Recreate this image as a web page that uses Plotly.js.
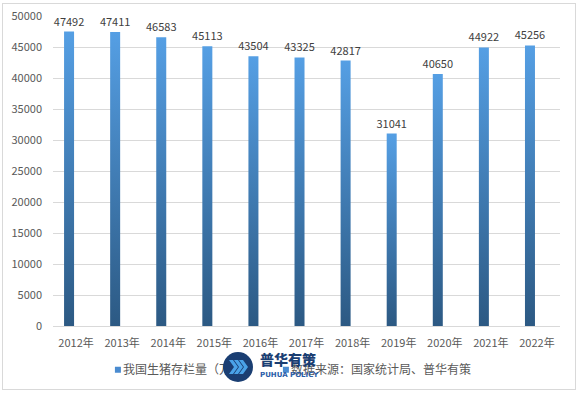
<!DOCTYPE html>
<html>
<head>
<meta charset="utf-8">
<script src="https://cdn.plot.ly/plotly-3.0.1.min.js"></script>
<style>
html,body{margin:0;padding:0;background:#fff;}
#wrap{position:relative;width:579px;height:394px;overflow:hidden;}
#chart{position:absolute;left:0;top:0;width:579px;height:394px;}
#border{position:absolute;left:2px;top:3px;width:572px;height:385px;border:1px solid #d9d9d9;pointer-events:none;}
#logo{position:absolute;left:223px;top:352px;width:110px;height:32px;pointer-events:none;}
#logo .c{position:absolute;left:0;top:0;width:30px;height:30px;border-radius:50%;background:#1a3e72;}
#logo .t1{position:absolute;left:37px;top:-2px;font-family:"Noto Sans CJK SC";font-weight:900;font-size:14px;color:#1a3e72;line-height:18px;white-space:nowrap;}
#logo .t2{position:absolute;left:37px;top:19px;font-family:"DejaVu Sans";font-weight:bold;font-size:7px;color:#2a5da8;line-height:9px;white-space:nowrap;}
</style>
</head>
<body>
<div id="wrap">
<div id="chart"></div>
<div id="border"></div>
<div id="logo">
  <div class="c">
    <svg width="30" height="30" viewBox="0 0 30 30">
      <path d="M6,8 L10,8 L15,15 L10,22 L6,22 L11,15 Z" fill="#4aa3e8"/>
      <path d="M11,8 L15,8 L20,15 L15,22 L11,22 L16,15 Z" fill="#4aa3e8"/>
      <path d="M16,8 L20,8 L25,15 L20,22 L16,22 L21,15 Z" fill="#4aa3e8"/>
    </svg>
  </div>
  <div class="t1">普华有策</div>
  <div class="t2">PUHUA POLICY</div>
</div>
</div>
<script>
const categories = ["2012年","2013年","2014年","2015年","2016年","2017年","2018年","2019年","2020年","2021年","2022年"];
const hogStock = [47492,47411,46583,45113,43504,43325,42817,31041,40650,44922,45256];
const seriesName = "我国生猪存栏量（万头）";
const sourceName = "数据来源：国家统计局、普华有策";
const yTicks = [0,5000,10000,15000,20000,25000,30000,35000,40000,45000,50000];

const font = {family: "'Noto Sans CJK SC', 'Noto Sans', sans-serif", size: 11, color: "#595959"};

const traces = [
  {
    type: "bar",
    name: seriesName,
    x: categories,
    y: hogStock,
    width: 0.217,
    offset: -0.26,
    marker: {color: "#4a8bd0", line: {width: 0}},
    text: hogStock.map(String),
    textposition: "outside",
    constraintext: "none",
    textfont: {family: font.family, size: 11, color: "#404040"},
    cliponaxis: false,
    hoverinfo: "skip"
  },
  {
    type: "bar",
    name: sourceName,
    x: categories,
    y: categories.map(() => null),
    marker: {color: "#4a8bd0"},
    hoverinfo: "skip"
  }
];

const layout = {
  width: 579,
  height: 394,
  margin: {l: 53, r: 19, t: 16, b: 68, autoexpand: false},
  paper_bgcolor: "#ffffff",
  plot_bgcolor: "#ffffff",
  font: font,
  showlegend: true,
  barmode: "overlay",
  xaxis: {
    type: "category",
    showgrid: false,
    showline: true,
    linecolor: "#d9d9d9",
    linewidth: 1,
    ticks: "",
    ticklabelstandoff: 7,
    tickfont: {family: font.family, size: 11, color: "#595959"},
    range: [-0.5, 10.5]
  },
  yaxis: {
    range: [0, 50000],
    tickvals: yTicks,
    ticktext: yTicks.map(String),
    showgrid: true,
    gridcolor: "#d9d9d9",
    gridwidth: 1,
    zeroline: false,
    showline: false,
    ticks: "",
    ticklen: 0,
    ticklabelstandoff: 10,
    tickfont: {family: font.family, size: 11, color: "#595959"}
  },
  legend: {
    orientation: "h",
    x: 0.059,
    xanchor: "left",
    y: -0.094,
    yanchor: "top",
    font: {family: font.family, size: 12, color: "#595959"},
    itemwidth: 30,
    bgcolor: "rgba(0,0,0,0)"
  }
};

Plotly.newPlot("chart", traces, layout, {staticPlot: true, displayModeBar: false}).then(function(gd){
  const svg = gd.querySelector(".main-svg");
  const ns = "http://www.w3.org/2000/svg";
  let defs = svg.querySelector("defs");
  if (!defs) { defs = document.createElementNS(ns, "defs"); svg.insertBefore(defs, svg.firstChild); }
  const g = document.createElementNS(ns, "linearGradient");
  g.setAttribute("id", "barGrad");
  g.setAttribute("x1", "0"); g.setAttribute("y1", "0");
  g.setAttribute("x2", "0"); g.setAttribute("y2", "1");
  const s1 = document.createElementNS(ns, "stop");
  s1.setAttribute("offset", "0"); s1.setAttribute("stop-color", "#559fe4");
  const s2 = document.createElementNS(ns, "stop");
  s2.setAttribute("offset", "1"); s2.setAttribute("stop-color", "#2c5983");
  g.appendChild(s1); g.appendChild(s2);
  defs.appendChild(g);
  gd.querySelectorAll(".barlayer .point path").forEach(function(p){
    p.style.fill = "url(#barGrad)";
  });
  const items = gd.querySelectorAll(".legend .traces");
  items.forEach(function(it, i){
    const pts = it.querySelector(".legendpoints");
    if (pts) pts.setAttribute("transform", "translate(15,0)");
    it.querySelectorAll(".legendpoints path").forEach(function(p){
      p.setAttribute("d", "M3,3H-3V-3H3Z");
    });
  });
  if (items.length > 1) {
    const t0 = items[0].getAttribute("transform") || "";
    const m = /translate\(\s*([-\d.]+)[ ,]+([-\d.]+)/.exec(t0);
    const x0 = m ? parseFloat(m[1]) : 0;
    const y0 = m ? parseFloat(m[2]) : 0;
    const t1 = items[1].getAttribute("transform") || "";
    const m1 = /translate\(\s*([-\d.]+)[ ,]+([-\d.]+)/.exec(t1);
    const y1 = m1 ? parseFloat(m1[2]) : y0;
    items[1].setAttribute("transform", "translate(" + (x0 + 168) + "," + y1 + ")");
  }
});
</script>
</body>
</html>
